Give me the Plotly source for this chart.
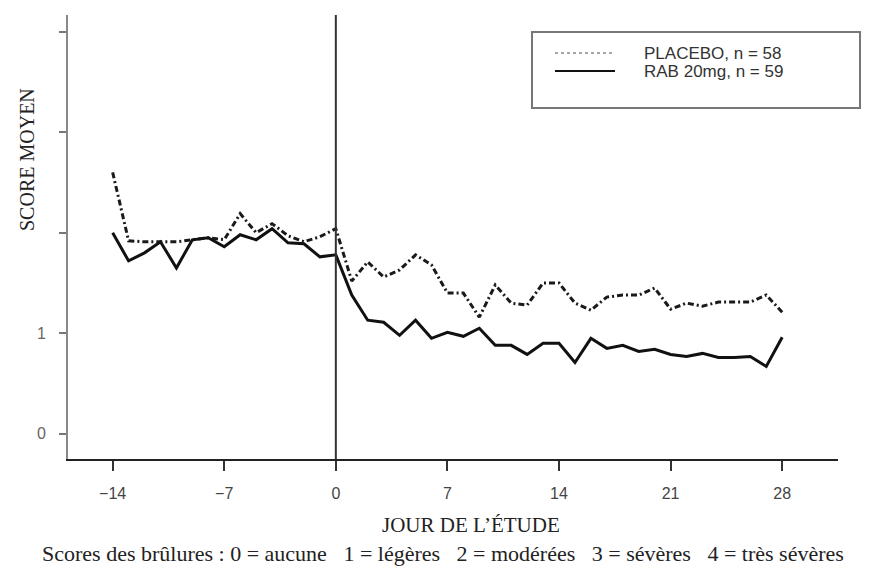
import plotly.graph_objects as go

days = list(range(-14, 29))
placebo = [2.60, 1.92, 1.91, 1.91, 1.91, 1.93, 1.95, 1.93, 2.19, 2.00, 2.09, 1.97, 1.91, 1.96, 2.04,
           1.52, 1.71, 1.56, 1.63, 1.78, 1.68, 1.40, 1.40, 1.16, 1.48, 1.30, 1.28, 1.50, 1.50,
           1.30, 1.23, 1.36, 1.38, 1.38, 1.45, 1.24, 1.30, 1.27, 1.31, 1.31, 1.31, 1.38, 1.21]
rab = [2.00, 1.72, 1.80, 1.91, 1.65, 1.93, 1.95, 1.86, 1.98, 1.93, 2.04, 1.90, 1.89, 1.76, 1.78,
       1.38, 1.13, 1.11, 0.98, 1.13, 0.95, 1.01, 0.97, 1.05, 0.88, 0.88, 0.79, 0.90, 0.90,
       0.71, 0.95, 0.85, 0.88, 0.82, 0.84, 0.79, 0.77, 0.80, 0.76, 0.76, 0.77, 0.67, 0.96]
series_names = ["PLACEBO, n = 58", "RAB 20mg, n = 59"]
x_ticks = [-14, -7, 0, 7, 14, 21, 28]
y_ticks = [0, 1, 2, 3, 4]
y_ticktext = ["0", "1", "", "", ""]

# page offset (browser body margin) compensation
OFF = 8
L, T, W, H = 68, 15, 770, 444  # plot area in page pixels


def px(xp):
    return (xp - L) / W


def py(yp):
    return (T + H - yp) / H


fig = go.Figure()
fig.add_trace(go.Scatter(x=days, y=placebo, mode="lines", name=series_names[0],
                         line=dict(color="#1a1a1a", width=3, dash="6px,3px,2px,3px")))
fig.add_trace(go.Scatter(x=days, y=rab, mode="lines", name=series_names[1],
                         line=dict(color="#111111", width=3)))

shapes = [
    dict(type="line", xref="x", yref="paper", x0=0, x1=0, y0=0, y1=1,
         line=dict(color="#333333", width=2)),
    # legend box
    dict(type="rect", xref="paper", yref="paper", x0=px(532), x1=px(860),
         y0=py(108), y1=py(32), line=dict(color="#777777", width=2),
         fillcolor="rgba(0,0,0,0)"),
    # legend keys
    dict(type="line", xref="paper", yref="paper", x0=px(555), x1=px(615), y0=py(53), y1=py(53),
         line=dict(color="#888888", width=1.5, dash="dot")),
    dict(type="line", xref="paper", yref="paper", x0=px(555), x1=px(615), y0=py(71), y1=py(71),
         line=dict(color="#111111", width=2)),
]

legend_font = dict(family="Liberation Sans, Arial", size=17, color="#333333")
serif = "Liberation Serif, Times New Roman"

annotations = [
    dict(text=series_names[0], xref="paper", yref="paper", x=px(642), y=py(53),
         xanchor="left", yanchor="middle", showarrow=False, font=legend_font),
    dict(text=series_names[1], xref="paper", yref="paper", x=px(642), y=py(71),
         xanchor="left", yanchor="middle", showarrow=False, font=legend_font),
    dict(text="SCORE MOYEN", xref="paper", yref="paper", x=px(27), y=py(160),
         textangle=-90, showarrow=False, xanchor="center", yanchor="middle",
         font=dict(family=serif, size=20, color="#222222")),
    dict(text="JOUR DE L’ÉTUDE", xref="paper", yref="paper", x=px(471), y=py(525),
         showarrow=False, xanchor="center", yanchor="middle",
         font=dict(family=serif, size=21, color="#222222")),
    dict(text="Scores des brûlures : 0 = aucune \u00a0\u00a01 = légères \u00a0\u00a02 = modérées "
              "\u00a0\u00a03 = sévères \u00a0\u00a04 = très sévères",
         xref="paper", yref="paper", x=px(443), y=py(553),
         showarrow=False, xanchor="center", yanchor="middle",
         font=dict(family=serif, size=22, color="#222222")),
]

fig.update_layout(
    width=891 - OFF, height=567 - OFF,
    margin=dict(l=L - OFF, r=891 - OFF - (L - OFF) - W, t=T - OFF, b=567 - OFF - (T - OFF) - H),
    paper_bgcolor="white", plot_bgcolor="white",
    showlegend=False,
    xaxis=dict(range=[-16.8, 31.5], tickvals=x_ticks, ticks="outside", ticklen=10,
               tickcolor="#333333", tickwidth=2, showgrid=False, zeroline=False,
               showline=True, linecolor="#222222", linewidth=2, ticklabelstandoff=9,
               tickfont=dict(family="Liberation Sans, Arial", size=16, color="#444444")),
    yaxis=dict(range=[-0.25, 4.165], tickvals=y_ticks, ticktext=y_ticktext, ticks="outside",
               ticklen=7, tickcolor="#777777", tickwidth=2, showgrid=False, zeroline=False,
               showline=True, linecolor="#888888", linewidth=2, ticklabelstandoff=10,
               tickfont=dict(family="Liberation Sans, Arial", size=16, color="#666666")),
    shapes=shapes,
    annotations=annotations,
)

fig.write_html("out.html")
